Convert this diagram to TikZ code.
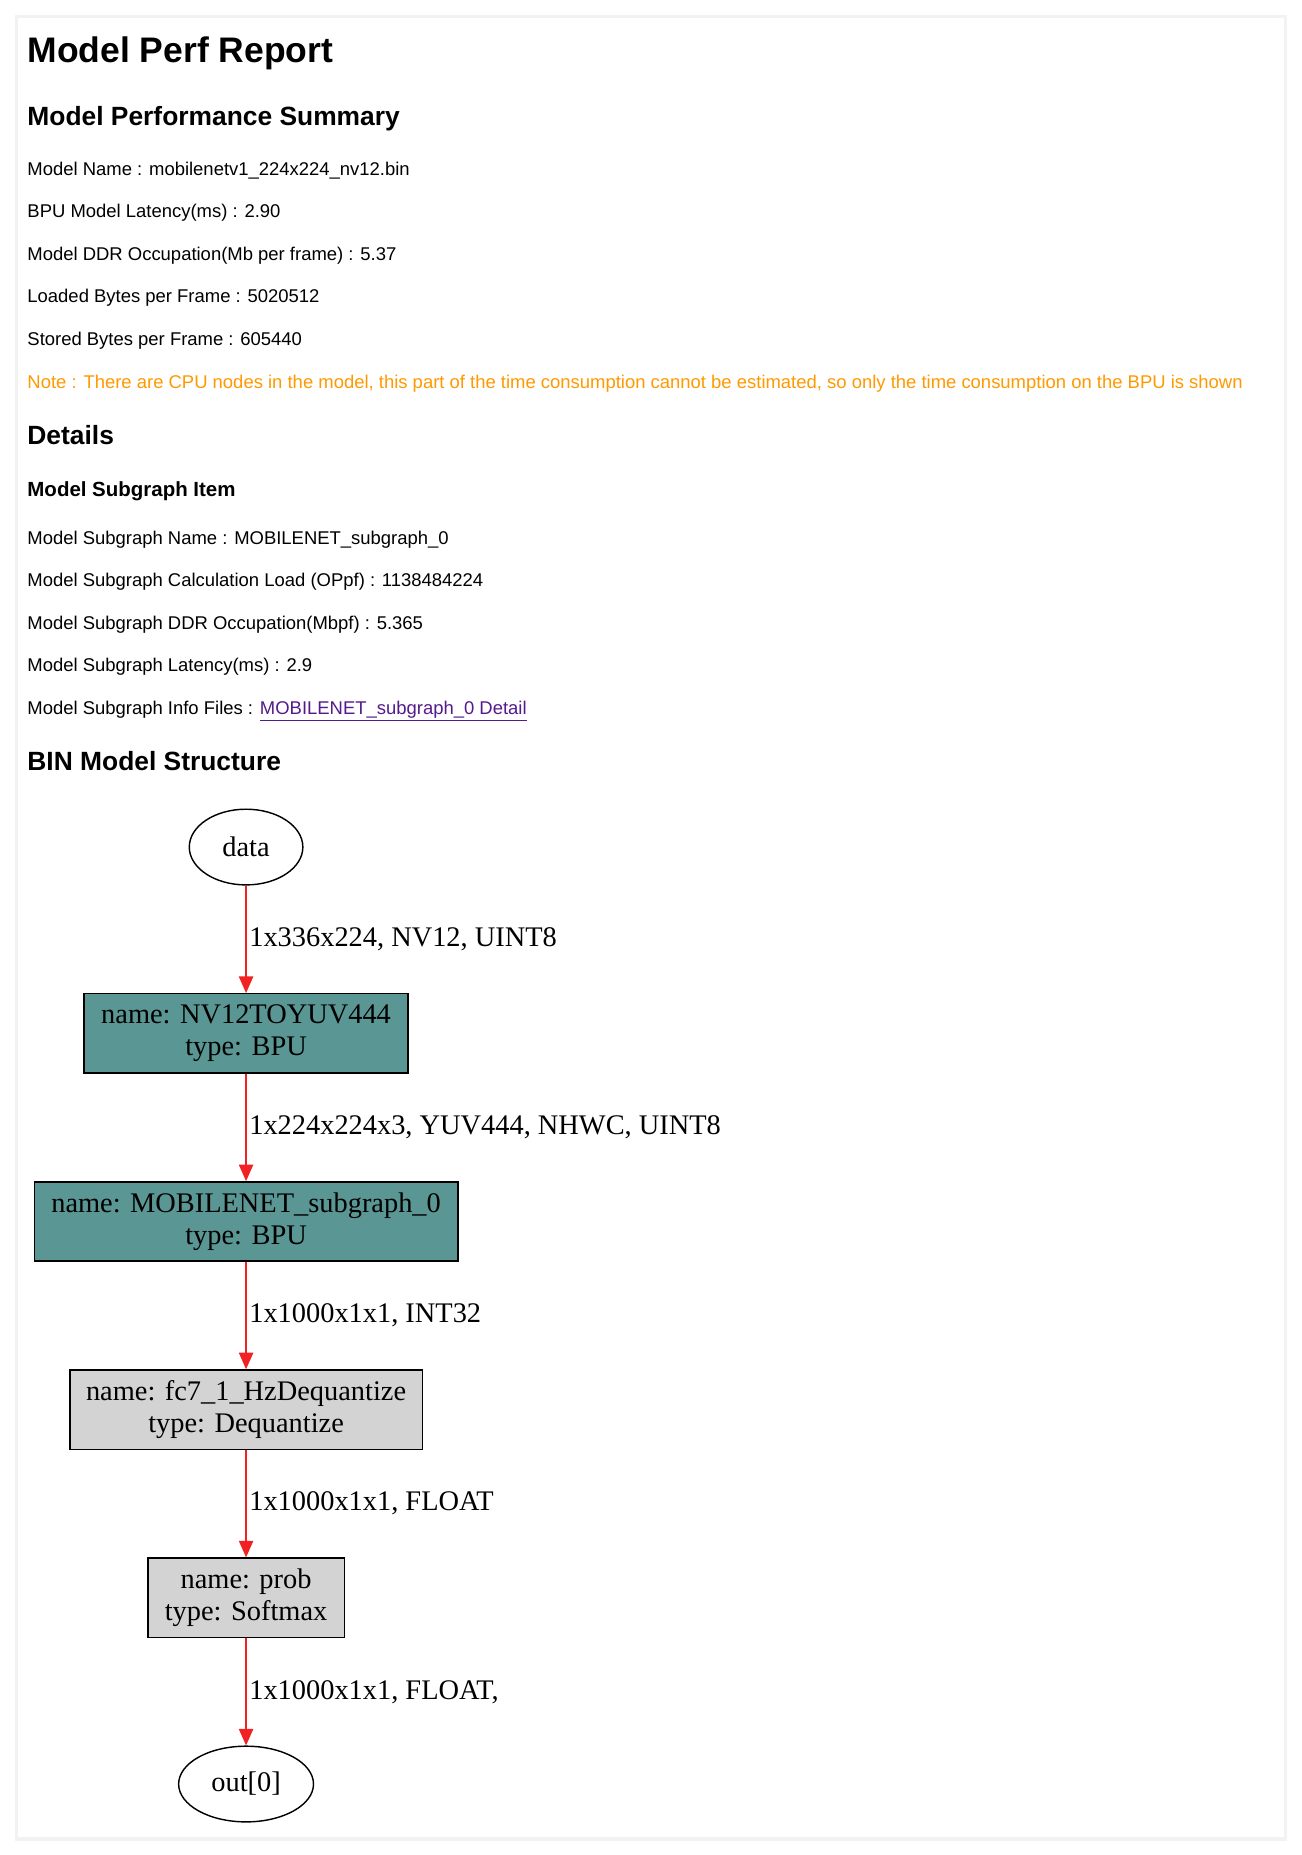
\documentclass[tikz,border=0pt]{standalone}
\usepackage{fontspec}
\setmainfont{Liberation Sans}
\newfontfamily\gvfont{Liberation Serif}
\usetikzlibrary{shapes.geometric,arrows.meta}
\definecolor{teal1}{HTML}{5A9694}
\definecolor{grayb}{HTML}{D3D3D3}
\definecolor{noteor}{HTML}{FF9900}
\definecolor{linkp}{HTML}{551A8B}
\definecolor{edgered}{HTML}{F22222}
\tikzset{
  txt/.style={anchor=base west,inner sep=0pt,font=\fontsize{15.6}{18}\selectfont},
  h1/.style={anchor=base west,inner sep=0pt,font=\fontsize{30}{33}\selectfont\bfseries},
  h2/.style={anchor=base west,inner sep=0pt,font=\fontsize{22.3}{25}\selectfont\bfseries},
  h3/.style={anchor=base west,inner sep=0pt,font=\fontsize{17.3}{20}\selectfont\bfseries},
  gbox/.style={draw=black,line width=1.2pt,minimum height=67pt,align=center,font=\gvfont\fontsize{24}{27}\selectfont,inner sep=0pt},
  gell/.style={draw=black,line width=1.2pt,ellipse,font=\gvfont\fontsize{24}{27}\selectfont,inner sep=0pt},
  gedge/.style={draw=edgered,line width=1.5pt,-{Triangle[length=14pt,width=12pt]}},
  glab/.style={anchor=west,font=\gvfont\fontsize{24}{27}\selectfont,inner sep=0pt},
}
\begin{document}
\begin{tikzpicture}[x=1pt,y=-1pt]
\useasboundingbox (0,0) rectangle (1100,1568);
\fill[white] (0,0) rectangle (1100,1568);
\fill[black!5] (13,13) rectangle (1088,1556);
\fill[white] (15,15) rectangle (1085,1553);
\node[h1] (t1) at (23,53) {Model Perf Report};
\node[h2] (t2) at (23,106) {Model Performance Summary};
\node[txt] (l1) at (23,148) {Model Name : mobilenetv1\_224x224\_nv12.bin};
\node[txt] (l2) at (23,184) {BPU Model Latency(ms) : 2.90};
\node[txt] (l3) at (23,220) {Model DDR Occupation(Mb per frame) : 5.37};
\node[txt] (l4) at (23,256) {Loaded Bytes per Frame : 5020512};
\node[txt] (l5) at (23,292) {Stored Bytes per Frame : 605440};
\node[txt,text=noteor] (l6) at (23,328) {Note : There are CPU nodes in the model, this part of the time consumption cannot be estimated, so only the time consumption on the BPU is shown};
\node[h2] (t3) at (23,376) {Details};
\node[h3] (t4) at (23,420) {Model Subgraph Item};
\node[txt] (m1) at (23,460) {Model Subgraph Name : MOBILENET\_subgraph\_0};
\node[txt] (m2) at (23,496) {Model Subgraph Calculation Load (OPpf) : 1138484224};
\node[txt] (m3) at (23,532) {Model Subgraph DDR Occupation(Mbpf) : 5.365};
\node[txt] (m4) at (23,568) {Model Subgraph Latency(ms) : 2.9};
\node[txt] (m5) at (23,604) {Model Subgraph Info Files : \textcolor{linkp}{\underline{MOBILENET\_subgraph\_0 Detail}}};
\node[h2] (t5) at (23,651) {BIN Model Structure};

\node[gell,minimum width=96pt,minimum height=64pt] (data) at (208,716) {data};
\node[gbox,fill=teal1,minimum width=274pt] (b1) at (208,873.5) {name: NV12TOYUV444\\type: BPU};
\node[gbox,fill=teal1,minimum width=358pt] (b2) at (208,1032.5) {name: MOBILENET\_subgraph\_0\\type: BPU};
\node[gbox,fill=grayb,minimum width=298pt] (b3) at (208,1191.5) {name: fc7\_1\_HzDequantize\\type: Dequantize};
\node[gbox,fill=grayb,minimum width=166pt] (b4) at (208,1350.5) {name: prob\\type: Softmax};
\node[gell,minimum width=114pt,minimum height=64pt] (out) at (208,1508) {out[0]};

\draw[gedge] (data) -- (b1) node[glab,pos=0.5,xshift=2pt] (e1) {1x336x224, NV12, UINT8};
\draw[gedge] (b1) -- (b2) node[glab,pos=0.5,xshift=2pt] (e2) {1x224x224x3, YUV444, NHWC, UINT8};
\draw[gedge] (b2) -- (b3) node[glab,pos=0.5,xshift=2pt] (e3) {1x1000x1x1, INT32};
\draw[gedge] (b3) -- (b4) node[glab,pos=0.5,xshift=2pt] (e4) {1x1000x1x1, FLOAT};
\draw[gedge] (b4) -- (out) node[glab,pos=0.5,xshift=2pt] (e5) {1x1000x1x1, FLOAT,};
\end{tikzpicture}
\end{document}
